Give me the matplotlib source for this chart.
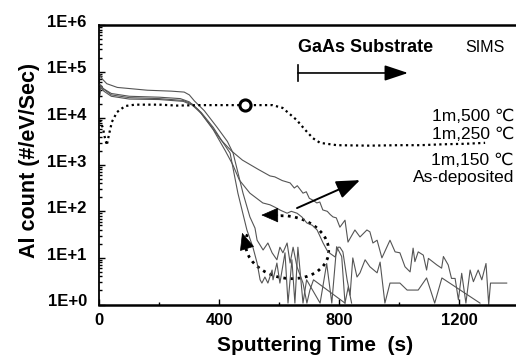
import numpy as np
import matplotlib.pyplot as plt
from matplotlib import ticker, transforms
from matplotlib.patches import Arc

plt.rcParams['font.family'] = ['Liberation Sans', 'DejaVu Sans']

# sputtering time (s) and log10 of the Al count
t_dot = [2, 12, 19, 25, 32, 42, 59, 86, 119, 200, 260, 330, 400, 486, 577, 611,
         658, 686, 712, 736, 792, 900, 1000, 1069, 1150, 1220, 1286]
log_dot = [3.96, 3.79, 3.57, 3.42, 3.64, 3.92, 4.13, 4.26, 4.29, 4.29, 4.27, 4.28,
           4.28, 4.28, 4.28, 4.22, 3.96, 3.75, 3.57, 3.47, 3.42, 3.41, 3.42, 3.42,
           3.44, 3.45, 3.47]
t_mark, log_mark = 486, 4.28

t_a = [0, 4, 12, 40, 100, 200, 270, 300, 330, 370, 406, 440, 477, 530, 569, 585,
       610, 636, 650, 660, 679, 690, 700, 712, 725, 735, 745, 760, 770, 779, 790,
       802, 819, 829, 852, 869, 892, 902, 912, 926, 942, 969, 986, 1002, 1019, 1036,
       1046, 1052, 1063, 1080, 1091, 1097, 1125, 1141, 1147, 1163, 1174, 1186, 1197,
       1208, 1222, 1236, 1247, 1263, 1275, 1289, 1298, 1304, 1358]
log_a = [4.50, 4.72, 4.64, 4.53, 4.47, 4.45, 4.42, 4.35, 4.18, 3.85, 3.53, 3.30,
         3.10, 2.90, 2.76, 2.74, 2.66, 2.61, 2.50, 2.55, 2.39, 2.42, 2.28, 2.24,
         2.18, 2.20, 2.03, 2.00, 1.93, 1.88, 1.86, 1.66, 1.81, 1.34, 1.60, 1.45,
         1.60, 1.56, 1.32, 1.38, 1.00, 1.38, 1.13, 1.11, 0.81, 0.70, 1.21, 0.92,
         1.13, 1.06, 0.74, 0.99, 0.85, 0.78, 1.03, 0.85, 0.56, 0.56, 0.10, 0.67,
         0.03, 0.74, 0.49, 0.74, 0.53, 0.88, 0.0, 0.46, 0.46]

t_b = [0, 5, 15, 40, 100, 200, 280, 310, 340, 380, 420, 445, 467, 502, 545, 569,
       585, 605, 626, 640, 659, 675, 692, 710, 726, 746, 762, 786, 796, 802, 812,
       826, 836, 845, 859, 869, 886, 902, 926, 936, 952, 969, 1002, 1026, 1063,
       1091, 1118, 1142, 1269]
log_b = [4.40, 4.66, 4.58, 4.47, 4.41, 4.40, 4.36, 4.28, 4.10, 3.75, 3.30, 3.00,
         2.67, 2.39, 2.18, 2.14, 2.09, 2.02, 1.96, 2.00, 1.96, 1.88, 1.75, 1.70,
         1.60, 1.32, 1.13, 1.02, 1.23, 1.23, 1.13, 0.53, 0.20, 1.00, 0.59, 0.68,
         0.96, 0.81, 0.68, 0.91, 0.03, 0.46, 0.46, 0.31, 0.31, 0.57, 0.03, 0.57,
         0.03]

t_c = [0, 3, 10, 25, 60, 160, 240, 283, 300, 317, 350, 393, 427, 446, 479, 502,
       519, 526, 546, 562, 576, 592, 602, 612, 626, 636, 646, 659, 679, 692, 702,
       714, 819]
log_c = [4.75, 4.93, 4.84, 4.74, 4.66, 4.60, 4.58, 4.56, 4.50, 4.37, 4.16, 3.80,
         3.50, 3.25, 2.39, 1.88, 1.64, 1.38, 1.17, 1.32, 1.11, 0.96, 1.23, 1.11,
         1.32, 0.89, 1.23, 0.81, 0.46, 0.03, 0.31, 0.53, 0.03]

t_d = [0, 5, 15, 40, 100, 200, 280, 310, 340, 380, 410, 436, 462, 492, 512, 526,
       536, 542, 552, 562, 576, 579, 592, 602, 619, 629, 642, 652, 662, 679, 691,
       736, 758, 775, 791, 808, 819, 830, 841]
log_d = [4.45, 4.70, 4.62, 4.50, 4.44, 4.42, 4.38, 4.30, 4.12, 3.80, 3.50, 3.25,
         2.39, 1.60, 1.23, 0.89, 0.53, 0.46, 0.59, 0.46, 0.74, 0.53, 0.89, 0.46,
         1.11, 0.03, 0.96, 0.03, 1.23, 0.03, 0.53, 0.03, 0.88, 0.03, 1.24, 1.03,
         0.03, 0.38, 0.03]

labels = ['1m,500 \u2103', '1m,250 \u2103', '1m,150 \u2103', 'As-deposited']
label_y = [4.03, 3.64, 3.10, 2.72]

fig = plt.figure(figsize=(5.16, 3.55), dpi=100)
ax = fig.add_axes([99.3 / 516, 1 - 304.5 / 355, 1 - 99.3 / 516, (304.5 - 25) / 355])

for t, lg in [(t_a, log_a), (t_b, log_b), (t_c, log_c), (t_d, log_d)]:
    ax.plot(t, 10 ** np.array(lg), color='#555555', lw=0.8)
ax.plot(t_dot, 10 ** np.array(log_dot), color='black', lw=1.6,
        linestyle=(0, (1, 1.5)))
ax.plot([t_mark], [10 ** log_mark], 'o', ms=8, mfc='white', mec='black', mew=2.2)

ax.set_yscale('log')
ax.set_xlim(0, 1389)
ax.set_ylim(1, 1e6)
ax.set_xticks([0, 400, 800, 1200])
ax.xaxis.set_minor_locator(ticker.FixedLocator([200, 600, 1000]))
ax.yaxis.set_major_locator(ticker.LogLocator(base=10, numticks=10))
ax.yaxis.set_minor_locator(ticker.LogLocator(base=10, subs=np.arange(2, 10), numticks=20))
ax.yaxis.set_minor_formatter(ticker.NullFormatter())
ax.yaxis.set_major_formatter(ticker.FuncFormatter(lambda v, _: f'1E+{int(round(np.log10(v)))}'))
ax.tick_params(which='both', direction='in', width=1, top=False, right=False)
ax.tick_params(which='major', length=4, labelsize=12)
ax.tick_params(which='minor', length=2.5)
ax.tick_params(axis='y', pad=9)
ax.tick_params(axis='x', pad=6)
for lab in ax.get_xticklabels() + ax.get_yticklabels():
    lab.set_fontweight('bold')
for lab in ax.get_yticklabels():
    lab.set_transform(lab.get_transform() + transforms.ScaledTranslation(0, 3 / 72, fig.dpi_scale_trans))
ax.spines['right'].set_visible(False)
ax.spines['top'].set_linewidth(1.8)
ax.spines['bottom'].set_linewidth(1.8)
ax.spines['left'].set_linewidth(1.3)

fig.text(30 / 516, 1 - 160 / 355, 'Al count (#/eV/Sec)', rotation=90,
         ha='center', va='center', fontsize=15.5, fontweight='bold')
fig.text(315 / 516, 4 / 355, 'Sputtering Time  (s)', ha='center', va='baseline',
         fontsize=15, fontweight='bold')

# annotations
ax.text(886, 10 ** 5.51, 'GaAs Substrate', ha='center', va='center',
        fontsize=13, fontweight='bold')
ax.text(1286, 10 ** 5.51, 'SIMS', ha='center', va='center', fontsize=11.5)
ax.annotate('', xy=(1029, 10 ** 4.97), xytext=(662, 10 ** 4.97),
            arrowprops=dict(arrowstyle='-|>,head_length=0.9,head_width=0.3',
                            color='black', lw=1.2, shrinkA=0, shrinkB=0,
                            mutation_scale=16))
ax.plot([662, 662], [10 ** 4.80, 10 ** 5.14], color='black', lw=1.2)
for txt, ly in zip(labels, label_y):
    ax.text(1382, 10 ** ly, txt, ha='right', va='center', fontsize=12.5)

ax.annotate('', xy=(869, 10 ** 2.67), xytext=(659, 10 ** 2.07),
            arrowprops=dict(arrowstyle='-|>,head_length=0.9,head_width=0.35',
                            color='black', lw=1.4, shrinkA=0, shrinkB=0,
                            mutation_scale=16))

cx, cy = ax.transData.transform((626, 10 ** 1.23))
ax.add_patch(Arc((cx, cy), 84, 62, angle=-11, theta1=173, theta2=478,
                 transform=transforms.IdentityTransform(), color='black', lw=2,
                 linestyle=(0, (1, 1.6))))
ax.annotate('', xy=(540, 10 ** 1.92), xytext=(595, 10 ** 1.92),
            arrowprops=dict(arrowstyle='-|>,head_length=0.8,head_width=0.35',
                            color='black', lw=0.5, shrinkA=0, shrinkB=0,
                            mutation_scale=14))
ax.annotate('', xy=(476, 10 ** 1.54), xytext=(490, 10 ** 1.25),
            arrowprops=dict(arrowstyle='-|>,head_length=0.8,head_width=0.35',
                            color='black', lw=0.5, shrinkA=0, shrinkB=0,
                            mutation_scale=14))

fig.savefig('out.png', dpi=100)
